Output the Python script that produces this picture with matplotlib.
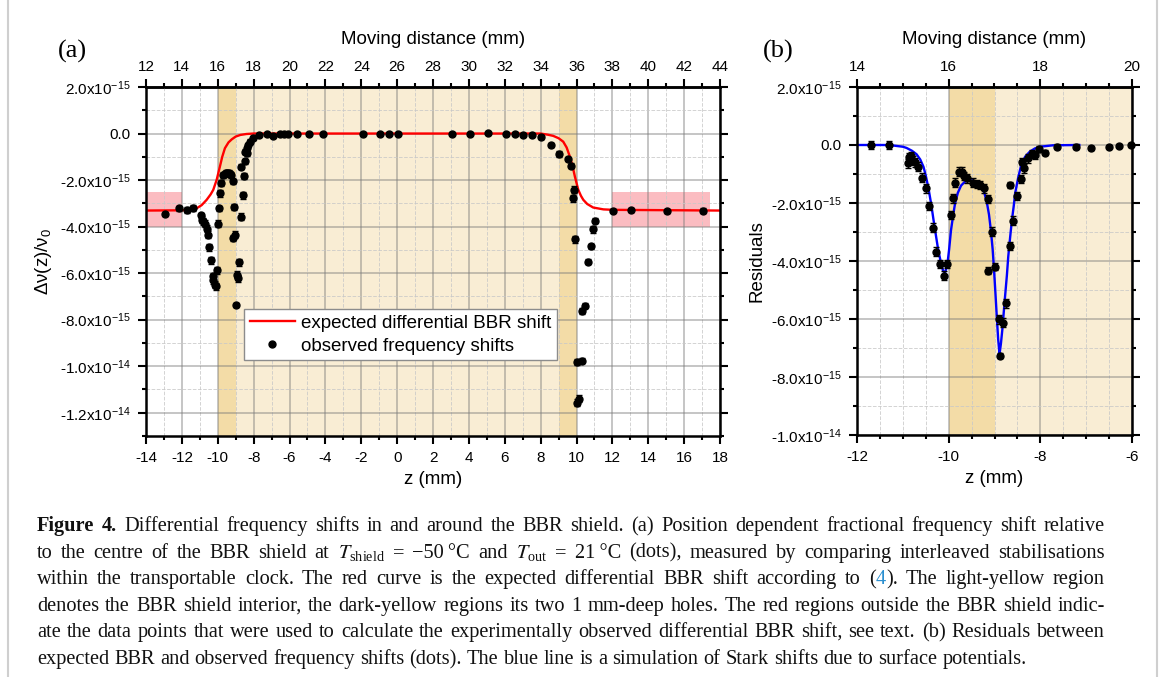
import matplotlib
matplotlib.use('Agg')
import matplotlib.pyplot as plt
from matplotlib.ticker import MultipleLocator, FixedLocator, FuncFormatter
from matplotlib.lines import Line2D
import numpy as np

plt.rcParams['font.family'] = ['Liberation Sans', 'DejaVu Sans']
plt.rcParams['mathtext.fontset'] = 'stix'
plt.rcParams['mathtext.default'] = 'regular'
plt.rcParams['axes.unicode_minus'] = False

# ---- (a) data, shifts in units of 1e-15 ----
z_expected = [-14, -12, -11.5, -11.17, -10.9, -10.62, -10.4, -10.25, -10.06, -9.88,
              -9.75, -9.6, -9.4, -9.22, -9.0, -8.74, -8.4, -8.0, 8.0, 8.4, 8.7,
              9.0, 9.26, 9.45, 9.63, 9.78, 9.91, 10.1, 10.25, 10.38, 10.6, 10.93,
              11.5, 12.05, 18]
shift_expected = [-3.31, -3.3, -3.27, -3.21, -3.08, -2.85, -2.62, -2.42, -1.99, -1.42,
                  -1.0, -0.63, -0.38, -0.25, -0.13, -0.06, -0.02, 0.0, 0.0, -0.05, -0.1,
                  -0.2, -0.35, -0.6, -0.99, -1.4, -1.85, -2.42, -2.68, -2.85, -3.03, -3.18,
                  -3.26, -3.28, -3.31]

z_obs = [-12.94, -12.14, -11.73, -11.36, -10.95, -10.9, -10.8, -10.71, -10.58, -10.52,
         -10.47, -10.39, -10.28, -10.24, -10.15, -10.09, -10.02, -9.96, -9.92, -9.9,
         -9.82, -9.68, -9.6, -9.53, -9.46, -9.4, -9.33, -9.27, -9.16, -9.16,
         -9.08, -9.03, -8.98, -8.94, -8.89, -8.8, -8.73, -8.71, -8.61, -8.54,
         -8.49, -8.47, -8.39, -8.36, -8.31, -8.2, -8.02, -7.68, -7.27, -6.94,
         -6.53, -6.31, -6.07, -5.57, -4.94, -4.16, -1.93, -0.96, -0.47, 0.03,
         3.04, 4.06, 5.05, 6.05, 6.57, 7.03, 7.5, 8.0, 8.56, 9.02,
         9.54, 9.69, 9.78, 9.86, 9.91, 10.01, 10.05, 10.16, 10.29, 10.29,
         10.47, 10.66, 10.79, 10.93, 11.03, 12.05, 13.04, 15.03, 17.07]
shift_obs = [-3.46, -3.22, -3.28, -3.21, -3.52, -3.71, -3.78, -3.88, -4.09, -4.35,
             -4.88, -5.45, -6.14, -6.31, -6.5, -6.57, -5.88, -3.88, -3.21, -2.56,
             -2.13, -1.78, -1.72, -1.7, -1.68, -1.7, -1.75, -1.78, -2.06, -4.49,
             -3.16, -4.35, -7.37, -6.07, -6.21, -5.54, -1.42, -3.57, -2.66, -1.82,
             -1.2, -0.78, -0.85, -0.63, -0.49, -0.35, -0.2, -0.06, -0.03, -0.09,
             -0.03, -0.02, -0.02, 0.0, 0.0, 0.0, 0.0, -0.03, 0.0, 0.0,
             0.0, 0.0, 0.02, 0.0, 0.0, -0.06, -0.06, -0.16, -0.49, -0.89,
             -1.1, -1.38, -2.78, -2.42, -4.54, -9.83, -11.58, -11.4, -9.76, -7.64,
             -7.4, -5.5, -4.85, -4.11, -3.74, -3.31, -3.28, -3.32, -3.31]
err_obs = [0.08, 0.12, 0.12, 0.12, 0.12, 0.15, 0.15, 0.15, 0.15, 0.15,
           0.15, 0.15, 0.15, 0.15, 0.15, 0.15, 0.15, 0.15, 0.1, 0.15,
           0.12, 0.12, 0.12, 0.12, 0.12, 0.12, 0.12, 0.12, 0.12, 0.15,
           0.12, 0.15, 0.08, 0.15, 0.15, 0.15, 0.12, 0.15, 0.15, 0.12,
           0.12, 0.1, 0.1, 0.1, 0.1, 0.1, 0.08, 0.06, 0.06, 0.06,
           0.06, 0.06, 0.06, 0.05, 0.05, 0.05, 0.05, 0.05, 0.05, 0.05,
           0.05, 0.05, 0.05, 0.05, 0.05, 0.06, 0.06, 0.08, 0.1, 0.12,
           0.1, 0.12, 0.15, 0.15, 0.15, 0.12, 0.15, 0.15, 0.12, 0.12,
           0.12, 0.12, 0.12, 0.15, 0.12, 0.08, 0.08, 0.08, 0.12]

# red boxes: data used for the outside shift
box_z = [(-14, -12), (12, 17.45)]
box_shift = (-4.0, -2.5)

# shield interior and holes (z, mm)
shield = (-10, 10)
holes = [(-10, -9), (9, 10)]
moving_offset = 26  # moving distance at z = 0

top_ticks_a = [12, 14, 16, 18, 20, 22, 24, 26, 28, 30, 32, 34, 36, 38, 40, 42, 44]
top_minor_a = list(range(12, 45))
top_ticks_b = [14, 16, 18, 20]
top_minor_b = [14, 14.5, 15, 15.5, 16, 16.5, 17, 17.5, 18, 18.5, 19, 19.5, 20]

# ---- (b) residuals ----
z_res = [-11.7, -11.31, -10.89, -10.86, -10.82, -10.78, -10.73, -10.67, -10.59, -10.5,
         -10.42, -10.35, -10.27, -10.19, -10.11, -10.04, -9.95, -9.91, -9.87, -9.78,
         -9.72, -9.66, -9.6, -9.46, -9.39, -9.31, -9.23, -9.15, -9.15, -9.06,
         -8.99, -8.91, -8.89, -8.82, -8.75, -8.66, -8.66, -8.59, -8.5, -8.43,
         -8.41, -8.36, -8.26, -8.19, -8.12, -8.02, -7.9, -7.63, -7.22, -6.9,
         -6.5, -6.28, -6.03]
res = [0.0, 0.0, -0.63, -0.42, -0.38, -0.54, -0.6, -0.75, -1.13, -1.49,
       -2.1, -2.85, -3.68, -4.1, -4.51, -4.1, -2.41, -1.84, -1.3, -0.92,
       -0.92, -1.07, -1.15, -1.3, -1.34, -1.38, -1.49, -1.86, -4.33, -2.99,
       -4.2, -6.01, -7.26, -6.13, -5.46, -3.48, -1.38, -2.61, -1.76, -1.17,
       -0.57, -0.8, -0.46, -0.31, -0.34, -0.14, -0.26, -0.06, -0.06, -0.1,
       -0.06, -0.02, 0.0]
err_res = [0.15, 0.15, 0.15, 0.15, 0.15, 0.15, 0.15, 0.15, 0.15, 0.15,
           0.15, 0.15, 0.15, 0.15, 0.15, 0.15, 0.15, 0.15, 0.15, 0.15,
           0.15, 0.15, 0.15, 0.15, 0.15, 0.15, 0.15, 0.15, 0.12, 0.15,
           0.12, 0.15, 0.1, 0.15, 0.15, 0.15, 0.1, 0.15, 0.15, 0.15,
           0.12, 0.15, 0.15, 0.15, 0.15, 0.1, 0.1, 0.08, 0.08, 0.08,
           0.06, 0.06, 0.06]

z_stark = [-12.0, -11.4, -11.2, -11.0, -10.92, -10.8, -10.7, -10.62, -10.55, -10.5,
           -10.44, -10.38, -10.33, -10.28, -10.23, -10.17, -10.12, -10.08, -10.03, -9.99,
           -9.95, -9.9, -9.86, -9.8, -9.73, -9.65, -9.57, -9.48, -9.4, -9.32,
           -9.24, -9.17, -9.12, -9.08, -9.04, -9.01, -8.98, -8.95, -8.92, -8.89,
           -8.86, -8.83, -8.8, -8.77, -8.73, -8.7, -8.66, -8.62, -8.58, -8.55,
           -8.48, -8.41, -8.33, -8.23, -8.12, -8.01, -7.72, -7.15]
stark = [0.0, 0.0, -0.02, -0.06, -0.1, -0.2, -0.32, -0.5, -0.75, -1.05,
         -1.5, -2.05, -2.59, -3.1, -3.6, -4.05, -4.35, -4.4, -4.14, -3.6,
         -2.95, -2.4, -2.01, -1.65, -1.4, -1.27, -1.22, -1.22, -1.28, -1.38,
         -1.55, -1.95, -2.4, -2.93, -3.6, -4.31, -5.1, -5.92, -6.7, -7.21,
         -6.85, -6.38, -5.8, -5.23, -4.5, -3.85, -3.2, -2.59, -2.1, -1.67,
         -1.1, -0.65, -0.4, -0.23, -0.12, -0.06, -0.01, 0.0]

unit = 1e-15
light_yellow = '#f9edd4'
dark_yellow = '#f3dca7'
pink = '#fbbcc1'


def sci_fmt(v, pos):
    if abs(v) < 1e-20:
        return '0.0'
    e = int(np.floor(np.log10(abs(v)) + 1e-6))
    return '%.1fx10$^{%d}$' % (v / 10**e, e)


def style_axes(ax, top_major, top_minor, xmajor, xminor):
    ax.set_axisbelow(True)
    ax.grid(which='major', color='#7a7a7a', alpha=0.55, lw=1.1)
    ax.grid(which='minor', color='#c8c8c8', alpha=0.8, ls='--', lw=0.7)
    ax.xaxis.set_major_locator(MultipleLocator(xmajor))
    ax.xaxis.set_minor_locator(MultipleLocator(xminor))
    ax.yaxis.set_major_locator(MultipleLocator(2e-15))
    ax.yaxis.set_minor_locator(MultipleLocator(1e-15))
    ax.yaxis.set_major_formatter(FuncFormatter(sci_fmt))
    for s in ax.spines.values():
        s.set_linewidth(1.8)
    ax.tick_params(which='both', direction='out', right=True, top=False, width=1.5, labelsize=11)
    ax.tick_params(which='major', length=6, pad=5)
    ax.tick_params(which='minor', length=3)
    ax.set_xlabel('z (mm)', fontsize=13.5, labelpad=4)
    sec = ax.secondary_xaxis('top', functions=(lambda z: z + moving_offset, lambda d: d - moving_offset))
    sec.xaxis.set_major_locator(FixedLocator(top_major))
    sec.xaxis.set_minor_locator(FixedLocator(top_minor))
    sec.tick_params(which='both', direction='out', width=1.5, labelsize=11)
    sec.tick_params(which='major', length=6, pad=3)
    sec.tick_params(which='minor', length=3)
    sec.spines['top'].set_linewidth(1.8)
    sec.set_xlabel('Moving distance (mm)', fontsize=13.5, labelpad=12)


fig = plt.figure(figsize=(11.68, 6.77), dpi=100)
W, H = 1168.0, 677.0
axa = fig.add_axes([146 / W, 1 - 436 / H, 574 / W, 349 / H])
axb = fig.add_axes([857 / W, 1 - 435 / H, 275 / W, 348 / H])

for ax in (axa, axb):
    ax.axvspan(shield[0], shield[1], color=light_yellow, lw=0, zorder=0)
    for h in holes:
        ax.axvspan(h[0], h[1], color=dark_yellow, lw=0, zorder=0)

# (a)
for bz in box_z:
    axa.fill_between(bz, box_shift[0] * unit, box_shift[1] * unit, color=pink, lw=0, zorder=0.2)
axa.plot(z_expected, np.array(shift_expected) * unit, color='#ff0000', lw=1.7, zorder=2)
axa.errorbar(z_obs, np.array(shift_obs) * unit, yerr=np.array(err_obs) * unit, fmt='o',
             color='k', ms=5, capsize=2.5, elinewidth=1, capthick=1, zorder=3)
axa.set_xlim(-14, 18)
axa.set_ylim(-1.3e-14, 2e-15)
style_axes(axa, top_ticks_a, top_minor_a, 2, 1)
axa.set_ylabel(r'$\Delta\nu(z)/\nu_0$', fontsize=13.5, labelpad=4)

handles = [Line2D([], [], color='#ff0000', lw=1.7),
           Line2D([], [], ls='none', marker='o', color='k', ms=5)]
leg = axa.legend(handles, ['expected differential BBR shift', 'observed frequency shifts'],
                 loc='upper left', bbox_to_anchor=(0.171, 0.364), borderaxespad=0,
                 fontsize=13.5, fancybox=False, edgecolor='#8c8c8c', framealpha=1,
                 handlelength=2.4, handletextpad=0.35, labelspacing=0.32, borderpad=0.3)
leg.get_frame().set_linewidth(1.0)

# (b)
axb.plot(z_stark, np.array(stark) * unit, color='#0000ff', lw=1.7, zorder=2)
axb.errorbar(z_res, np.array(res) * unit, yerr=np.array(err_res) * unit, fmt='o',
             color='k', ms=5, capsize=2.5, elinewidth=1, capthick=1, zorder=3, clip_on=False)
axb.set_xlim(-12, -6)
axb.set_ylim(-1.0e-14, 2e-15)
style_axes(axb, top_ticks_b, top_minor_b, 2, 0.5)
axb.set_ylabel('Residuals', fontsize=13.5, labelpad=4)

fig.text(72 / W, 1 - 51 / H, '(a)', family=['Liberation Serif'], fontsize=19, ha='center', va='center')
fig.text(778 / W, 1 - 51 / H, '(b)', family=['Liberation Serif'], fontsize=19, ha='center', va='center')

# page frame lines
for xl in (8, 1157):
    fig.add_artist(Line2D([xl / W, xl / W], [0, 1], transform=fig.transFigure, color='#cfcfcf', lw=1.5))

# caption, justified word by word
caption = [
    [('Figure 4.', 'bold'), (' Differential frequency shifts in and around the BBR shield. (a) Position dependent fractional frequency shift relative', 'normal')],
    [('to the centre of the BBR shield at $\\mathit{T}_{\\mathregular{shield}}$ = \u221250\u2009\u00b0C and $\\mathit{T}_{\\mathregular{out}}$ = 21\u2009\u00b0C (dots), measured by comparing interleaved stabilisations', 'normal')],
    [('within the transportable clock. The red curve is the expected differential BBR shift according to (', 'normal'), ('4', 'link'), ('). The light-yellow region', 'normal')],
    [('denotes the BBR shield interior, the dark-yellow regions its two 1 mm-deep holes. The red regions outside the BBR shield indic-', 'normal')],
    [('ate the data points that were used to calculate the experimentally observed differential BBR shift, see text. (b) Residuals between', 'normal')],
    [('expected BBR and observed frequency shifts (dots). The blue line is a simulation of Stark shifts due to surface potentials.', 'normal')],
]
cap_size = 14.7
cap_left, cap_right = 37, 1105
cap_base = [531, 557.6, 584.2, 610.8, 637.4, 664]
styles = {'normal': dict(color='#111111'),
          'bold': dict(color='#111111', weight='bold'),
          'link': dict(color='#2a8fd0')}

renderer = fig.canvas.get_renderer()
space_w = cap_size * 100 / 72 * 0.25
for li, segs in enumerate(caption):
    words = [[]]
    for txt, st in segs:
        parts = txt.split(' ')
        for i, p in enumerate(parts):
            if i > 0:
                words.append([])
            if p:
                words[-1].append((p, st))
    words = [w for w in words if w]
    placed = []
    total = 0
    for w in words:
        items = []
        ww = 0
        for p, st in w:
            t = fig.text(0, 0, p, family=['Liberation Serif', 'DejaVu Serif'], fontsize=cap_size,
                         va='baseline', ha='left', **styles[st])
            wpx = t.get_window_extent(renderer).width
            items.append((t, wpx))
            ww += wpx
        placed.append((items, ww))
        total += ww
    if li < len(caption) - 1:
        gap = (cap_right - cap_left - total) / (len(words) - 1)
    else:
        gap = space_w
    x = cap_left
    y = 1 - cap_base[li] / H
    for items, ww in placed:
        xx = x
        for t, wpx in items:
            t.set_position((xx / W, y))
            xx += wpx + 0.5
        x += ww + gap

fig.savefig('out.png', dpi=100)
